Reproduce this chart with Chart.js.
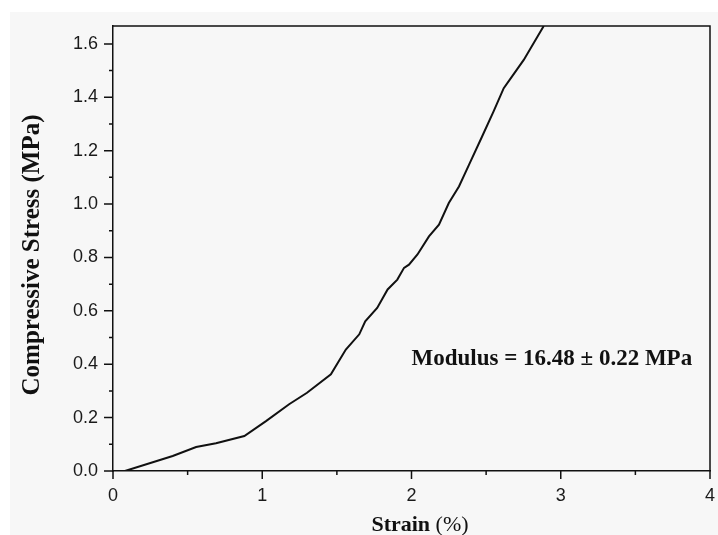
<!DOCTYPE html>
<html>
<head>
<meta charset="utf-8">
<script src="https://cdn.jsdelivr.net/npm/chart.js@4/dist/chart.umd.min.js"></script>
<style>
  html, body { margin: 0; padding: 0; background: #fff; }
  canvas { display: block; }
</style>
</head>
<body>
<canvas id="curva" width="718" height="535"></canvas>
<script>
// Compression test curve: strain (%) vs stress (MPa)
const strain = [0.08, 0.40, 0.557, 0.69, 0.88, 1.025, 1.18, 1.30, 1.46, 1.56, 1.65, 1.69, 1.77, 1.84,
  1.905, 1.95, 1.983, 2.04, 2.117, 2.184, 2.25, 2.318, 2.385, 2.473, 2.55, 2.618, 2.674, 2.752, 2.886];
const stress = [0.0, 0.056, 0.090, 0.104, 0.131, 0.187, 0.25, 0.293, 0.362, 0.455, 0.512, 0.561, 0.611, 0.680,
  0.717, 0.761, 0.773, 0.811, 0.879, 0.923, 1.004, 1.066, 1.147, 1.253, 1.347, 1.434, 1.478, 1.540, 1.667];

const xTicks = [0, 0.5, 1, 1.5, 2, 2.5, 3, 3.5, 4];
const yTicks = [0, 0.1, 0.2, 0.3, 0.4, 0.5, 0.6, 0.7, 0.8, 0.9, 1.0, 1.1, 1.2, 1.3, 1.4, 1.5, 1.6];
const yMax = 1.667;

const modulusText = 'Modulus = 16.48 \u00b1 0.22 MPa';
const modulusPos = { x: 2.0, y: 0.42 };

const pontos = strain.map((s, i) => ({ x: s, y: stress[i] }));

// fundo, moldura, marcas dos eixos e titulos
const enfeites = {
  id: 'enfeites',
  beforeDraw(chart) {
    const c = chart.ctx;
    c.save();
    c.fillStyle = '#fff';
    c.fillRect(0, 0, chart.width, chart.height);
    c.fillStyle = '#f7f7f7';
    c.fillRect(10, 12, chart.width - 10, chart.height - 12);
    c.restore();
  },
  afterDraw(chart) {
    const c = chart.ctx;
    const a = chart.chartArea;
    const sx = chart.scales.x, sy = chart.scales.y;
    c.save();
    c.strokeStyle = '#111';
    c.lineWidth = 1.5;
    c.beginPath();
    c.moveTo(a.left, a.top);
    c.lineTo(a.right, a.top);
    c.lineTo(a.right, a.bottom);
    c.stroke();

    // marcas maiores nos valores rotulados, menores no meio
    c.beginPath();
    xTicks.forEach(v => {
      const px = sx.getPixelForValue(v);
      const len = Number.isInteger(v) ? 8 : 4;
      c.moveTo(px, a.bottom);
      c.lineTo(px, a.bottom + len);
    });
    yTicks.forEach(v => {
      const py = sy.getPixelForValue(v);
      const major = Math.round(v * 10) % 2 === 0;
      c.moveTo(a.left, py);
      c.lineTo(a.left - (major ? 9 : 4), py);
    });
    c.stroke();

    // texto do modulo
    c.fillStyle = '#111';
    c.font = 'bold 23px "Liberation Serif"';
    c.textAlign = 'left';
    c.textBaseline = 'middle';
    c.fillText(modulusText, sx.getPixelForValue(modulusPos.x), sy.getPixelForValue(modulusPos.y));

    // titulo do eixo x: "Strain" em negrito, "(%)" normal
    const bold = 'bold 22px "Liberation Serif"';
    const reg = '22px "Liberation Serif"';
    c.font = bold;
    const w1 = c.measureText('Strain ').width;
    c.font = reg;
    const w2 = c.measureText('(%)').width;
    let x0 = 420 - (w1 + w2) / 2;
    c.textBaseline = 'alphabetic';
    c.font = bold;
    c.fillText('Strain ', x0, 531);
    c.font = reg;
    c.fillText('(%)', x0 + w1, 531);

    // titulo do eixo y
    c.translate(33, 255);
    c.rotate(-Math.PI / 2);
    c.font = 'bold 25px "Liberation Serif"';
    c.textAlign = 'center';
    c.textBaseline = 'middle';
    c.fillText('Compressive Stress (MPa)', 0, 0);
    c.restore();
  }
};

const fonteTicks = { family: '"Liberation Sans", Arial, sans-serif', size: 18 };

new Chart(document.getElementById('curva'), {
  type: 'line',
  data: {
    datasets: [{
      data: pontos,
      borderColor: '#111',
      borderWidth: 2,
      pointRadius: 0,
      tension: 0,
      fill: false
    }]
  },
  options: {
    responsive: false,
    animation: false,
    devicePixelRatio: 1,
    layout: { padding: { top: 26, right: 8, left: 0, bottom: 0 } },
    plugins: { legend: { display: false }, tooltip: { enabled: false } },
    scales: {
      x: {
        type: 'linear',
        min: 0,
        max: 4,
        afterFit: s => { s.height = 64; s.paddingLeft = 0; s.paddingRight = 0; },
        grid: { display: false, drawTicks: false },
        border: { display: true, color: '#111', width: 1.5 },
        ticks: {
          stepSize: 1,
          padding: 14,
          color: '#1a1a1a',
          font: fonteTicks,
          maxRotation: 0
        }
      },
      y: {
        type: 'linear',
        min: 0,
        max: yMax,
        afterFit: s => { s.width = 113; s.paddingTop = 0; s.paddingBottom = 0; },
        grid: { display: false, drawTicks: false },
        border: { display: true, color: '#111', width: 1.5 },
        ticks: {
          stepSize: 0.2,
          includeBounds: false,
          padding: 15,
          color: '#1a1a1a',
          font: fonteTicks,
          callback: v => v.toFixed(1)
        }
      }
    }
  },
  plugins: [enfeites]
});
</script>
</body>
</html>
